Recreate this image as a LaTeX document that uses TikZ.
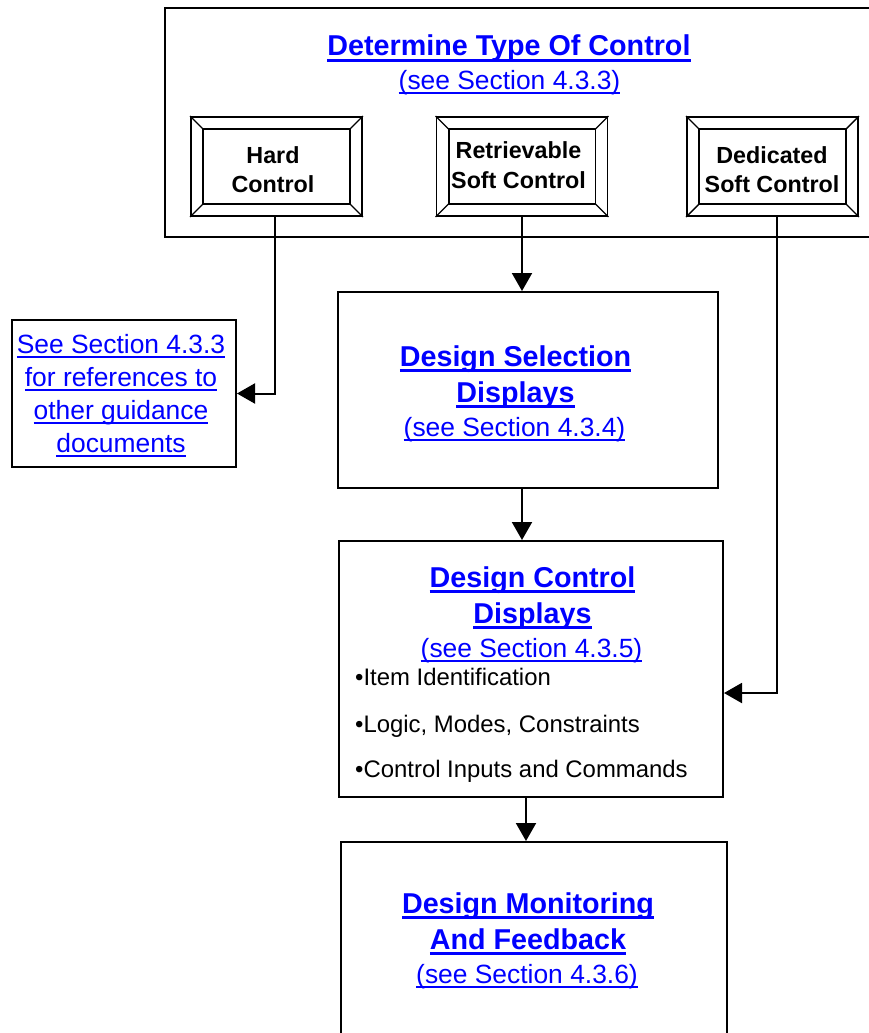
\documentclass[tikz,border=0pt]{standalone}
\usepackage{fontspec}
\setmainfont{Liberation Sans}
\usetikzlibrary{arrows.meta,shapes}
\definecolor{linkblue}{RGB}{0,0,255}
% underlined link text, rule thickness as optional argument
\newsavebox\lnkbox
\newcommand\lnk[2][1.8pt]{\sbox\lnkbox{#2}\rlap{\rule[\dimexpr-#1-3pt\relax]{\wd\lnkbox}{#1}}\usebox\lnkbox}
\tikzstyle{box}=[draw,rectangle,line width=2pt,inner sep=0pt]
\tikzstyle{button}=[box,line width=1.8pt]
\tikzstyle{heading}=[anchor=base,inner sep=0pt,text=linkblue,font=\fontsize{28.7}{34}\selectfont\bfseries]
\tikzstyle{seeref}=[anchor=base,inner sep=0pt,text=linkblue,font=\fontsize{26.4}{32}\selectfont]
\tikzstyle{btntext}=[anchor=base,inner sep=0pt,font=\fontsize{23.3}{28}\selectfont\bfseries]
\tikzstyle{item}=[anchor=base west,inner sep=0pt,font=\fontsize{23.9}{28}\selectfont]
\tikzstyle{flow}=[draw,line width=2pt,-{Triangle[length=18pt,width=20pt]}]

\begin{document}
\begin{tikzpicture}[x=1pt,y=-1pt]
    \useasboundingbox (0,0) rectangle (868,1033);
    % First the boxes
    \node[box,minimum width=710,minimum height=229] (type) at (520,122.5) {};
    \node[box,minimum width=224,minimum height=147] (refs) at (124,393.5) {};
    \node[box,minimum width=380,minimum height=196] (select) at (528,390) {};
    \node[box,minimum width=384,minimum height=256] (ctrl) at (531,669) {};
    \node[box,minimum width=386,minimum height=198] (mon) at (534,941) {};

    % the three bevelled buttons
    \foreach \pos/\name in {{(276.5,166.5)/hard}, {(522,166.5)/retr}, {(772.5,166.5)/dedi}} {
        \node[button,minimum width=171,minimum height=99] (\name) at \pos {};
        \draw[line width=1.8pt] ([shift={(13,13)}]\name.north west) rectangle ([shift={(-13,-13)}]\name.south east);
        \draw[line width=1.4pt] (\name.north west) -- +(13,13)
            (\name.north east) -- +(-13,13)
            (\name.south west) -- +(13,-13)
            (\name.south east) -- +(-13,-13);
    }
    \foreach \pos/\name/\txt in {{(273,163)/hardA/Hard}, {(273,192)/hardB/Control}, {(518.5,158)/retrA/Retrievable}, {(518.5,188)/retrB/Soft Control}, {(772,163)/dediA/Dedicated}, {(772,192)/dediB/Soft Control}}
        \node[btntext] (\name) at \pos {\txt};

    % Headings and section references
    \foreach \pos/\name/\txt in {{(509,56)/typehead/Determine Type Of Control}, {(515.5,366)/selhead1/Design Selection}, {(515.5,402)/selhead2/Displays}, {(532.5,587)/ctrlhead1/Design Control}, {(532.5,623)/ctrlhead2/Displays}, {(528,913)/monhead1/Design Monitoring}, {(528,949)/monhead2/And Feedback}}
        \node[heading] (\name) at \pos {\lnk[3.2pt]{\txt}};
    \foreach \pos/\name/\txt in {{(509.5,89)/typeref/(see Section 4.3.3)}, {(514.5,436)/selref/(see Section 4.3.4)}, {(531.5,657)/ctrlref/(see Section 4.3.5)}, {(527,983)/monref/(see Section 4.3.6)}, {(121,353)/refsA/See Section 4.3.3}, {(121,386)/refsB/for references to}, {(121,419)/refsC/other guidance}, {(121,452)/refsD/documents}}
        \node[seeref] (\name) at \pos {\lnk{\txt}};

    % bullet list of the control box
    \foreach \pos/\name/\txt in {{(355,685)/itemA/•Item Identification}, {(355,732)/itemB/•Logic, Modes, Constraints}, {(355,777)/itemC/•Control Inputs and Commands}}
        \node[item] (\name) at \pos {\txt};

    % Connect the boxes
    \path[flow] ([xshift=-1.5pt]hard.south) |- (refs.east);
    \path[flow] (retr.south) -- (retr.south |- select.north);
    \path[flow] (select.south -| retr.south) -- (ctrl.north -| retr.south);
    \path[flow] ([xshift=-5pt]ctrl.south) -- ([xshift=-5pt]ctrl.south |- mon.north);
    \path[flow] ([xshift=4.5pt]dedi.south) |- ([yshift=-24pt]ctrl.east);
\end{tikzpicture}
\end{document}
